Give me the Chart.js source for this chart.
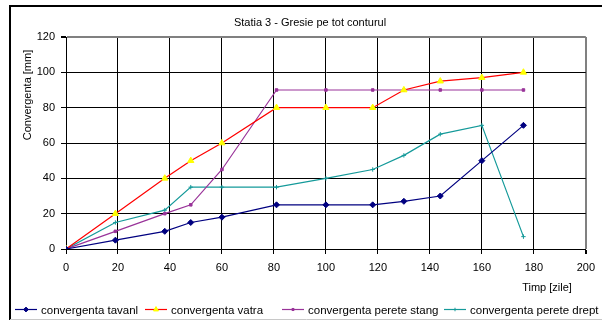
<!DOCTYPE html>
<html><head><meta charset="utf-8">
<script src="https://cdn.jsdelivr.net/npm/chart.js@4.4.0/dist/chart.umd.min.js"></script>
<style>html,body{margin:0;padding:0;background:#fff;}#wrap{width:602px;height:329px;position:relative;}</style>
</head><body><div id="wrap"><canvas id="c" width="602" height="329"></canvas></div>
<script>
const days = [0, 19, 38, 48, 60, 81, 100, 118, 130, 144, 160, 176];
const tavan = [0, 5, 10, 15, 18, 25, 25, 25, 27, 30, 50, 70];
const vatra = [0, 20, 40, 50, 60, 80, 80, 80, 90, 95, 97, 100];
const stang = [0, 10, 20, 25, 45, 90, 90, 90, 90, 90, 90, 90];
const drept = [0, 15, 22, 35, 35, 35, 40, 45, 53, 65, 70, 7];
const seriesNames = ['convergenta tavanl', 'convergenta vatra', 'convergenta perete stang', 'convergenta perete drept'];
const titleText = 'Statia 3 - Gresie pe tot conturul';
const yTitle = 'Convergenta [mm]';
const xTitle = 'Timp [zile]';

const FONT = '"Liberation Sans", Arial, sans-serif';
const pts = arr => arr.map((v, i) => ({x: days[i], y: v}));

const styles = [
  {color: '#000080', pointStyle: 'rectRot', r: 3, fill: '#000080'},
  {color: '#FF0000', pointStyle: 'triangle', r: 3.6, fill: '#FFFF00'},
  {color: '#993399', pointStyle: 'rect', r: 1.8, fill: '#993399'},
  {color: '#159a9a', pointStyle: 'cross', r: 2.2, fill: '#159a9a'}
];
const dataArr = [tavan, vatra, stang, drept];

const datasets = dataArr.map((d, i) => ({
  label: seriesNames[i],
  data: pts(d),
  borderColor: styles[i].color,
  borderWidth: 1.2,
  pointStyle: styles[i].pointStyle,
  pointRadius: styles[i].r,
  pointBackgroundColor: styles[i].fill,
  pointBorderColor: styles[i].fill,
  pointBorderWidth: 1,
  tension: 0,
  fill: false
}));

const deco = {
  id: 'deco',
  beforeDraw(chart) {
    const ctx = chart.ctx;
    ctx.save();
    ctx.fillStyle = '#fff';
    ctx.fillRect(0, 0, chart.width, chart.height);
    ctx.restore();
  },
  afterDraw(chart) {
    const ctx = chart.ctx;
    ctx.save();
    // outer frame
    ctx.strokeStyle = '#000';
    ctx.lineWidth = 2;
    ctx.beginPath();
    ctx.moveTo(10, 320); ctx.lineTo(10, 6); ctx.lineTo(610, 6);
    ctx.stroke();
    ctx.strokeStyle = '#c8c8c8';
    ctx.lineWidth = 1;
    ctx.beginPath(); ctx.moveTo(10, 319.5); ctx.lineTo(610, 319.5); ctx.stroke();
    // title
    ctx.fillStyle = '#000';
    ctx.font = '11px ' + FONT;
    ctx.textAlign = 'center';
    ctx.textBaseline = 'middle';
    ctx.fillText(titleText, 310, 23);
    // x title
    ctx.fillText(xTitle, 547, 288);
    // y title
    ctx.save();
    ctx.translate(28, 95);
    ctx.rotate(-Math.PI / 2);
    ctx.fillText(yTitle, 0, 0);
    ctx.restore();
    // legend
    const xs = [15, 145, 282, 444];
    const ly = 309.5;
    ctx.textAlign = 'left';
    chart.data.datasets.forEach((ds, i) => {
      const x0 = xs[i];
      ctx.strokeStyle = ds.borderColor;
      ctx.lineWidth = 1.2;
      ctx.beginPath(); ctx.moveTo(x0, ly); ctx.lineTo(x0 + 22, ly); ctx.stroke();
      ctx.fillStyle = ds.pointBackgroundColor;
      ctx.strokeStyle = ds.pointBorderColor;
      ctx.lineWidth = 1;
      Chart.helpers.drawPoint(ctx, {pointStyle: ds.pointStyle, radius: ds.pointRadius * 0.8, borderWidth: 1, rotation: 0}, x0 + 11, ly);
      ctx.fillStyle = '#000';
      ctx.font = '11.5px ' + FONT;
      ctx.fillText(ds.label, x0 + 26, ly + 1);
    });
    ctx.restore();
  }
};

new Chart(document.getElementById('c'), {
  type: 'line',
  data: {datasets},
  plugins: [deco],
  options: {
    responsive: false,
    animation: false,
    devicePixelRatio: 1,
    layout: {padding: {left: 0, top: 37, right: 12, bottom: 0}},
    plugins: {legend: {display: false}, title: {display: false}, tooltip: {enabled: false}},
    scales: {
      x: {
        type: 'linear', min: 0, max: 200,
        ticks: {stepSize: 20, color: '#000', font: {family: FONT, size: 11}, padding: 7, maxRotation: 0},
        grid: {
          color: c => (c.tick && c.tick.value === 200) ? '#808080' : '#000',
          lineWidth: c => (c.tick && c.tick.value === 200) ? 2 : 1,
          tickLength: 5, drawTicks: true, tickColor: '#000'
        },
        border: {color: '#000', width: 1},
        afterFit: s => { s.height = 80; }
      },
      y: {
        min: 0, max: 120,
        ticks: {stepSize: 20, color: '#000', font: {family: FONT, size: 11}, padding: 6},
        grid: {
          color: c => (c.tick && c.tick.value === 120) ? '#808080' : '#000',
          lineWidth: c => (c.tick && c.tick.value === 120) ? 2 : 1,
          tickLength: 5, drawTicks: true, tickColor: '#000'
        },
        border: {color: '#000', width: 1},
        afterFit: s => { s.width = 66; }
      }
    }
  }
});
</script></body></html>
